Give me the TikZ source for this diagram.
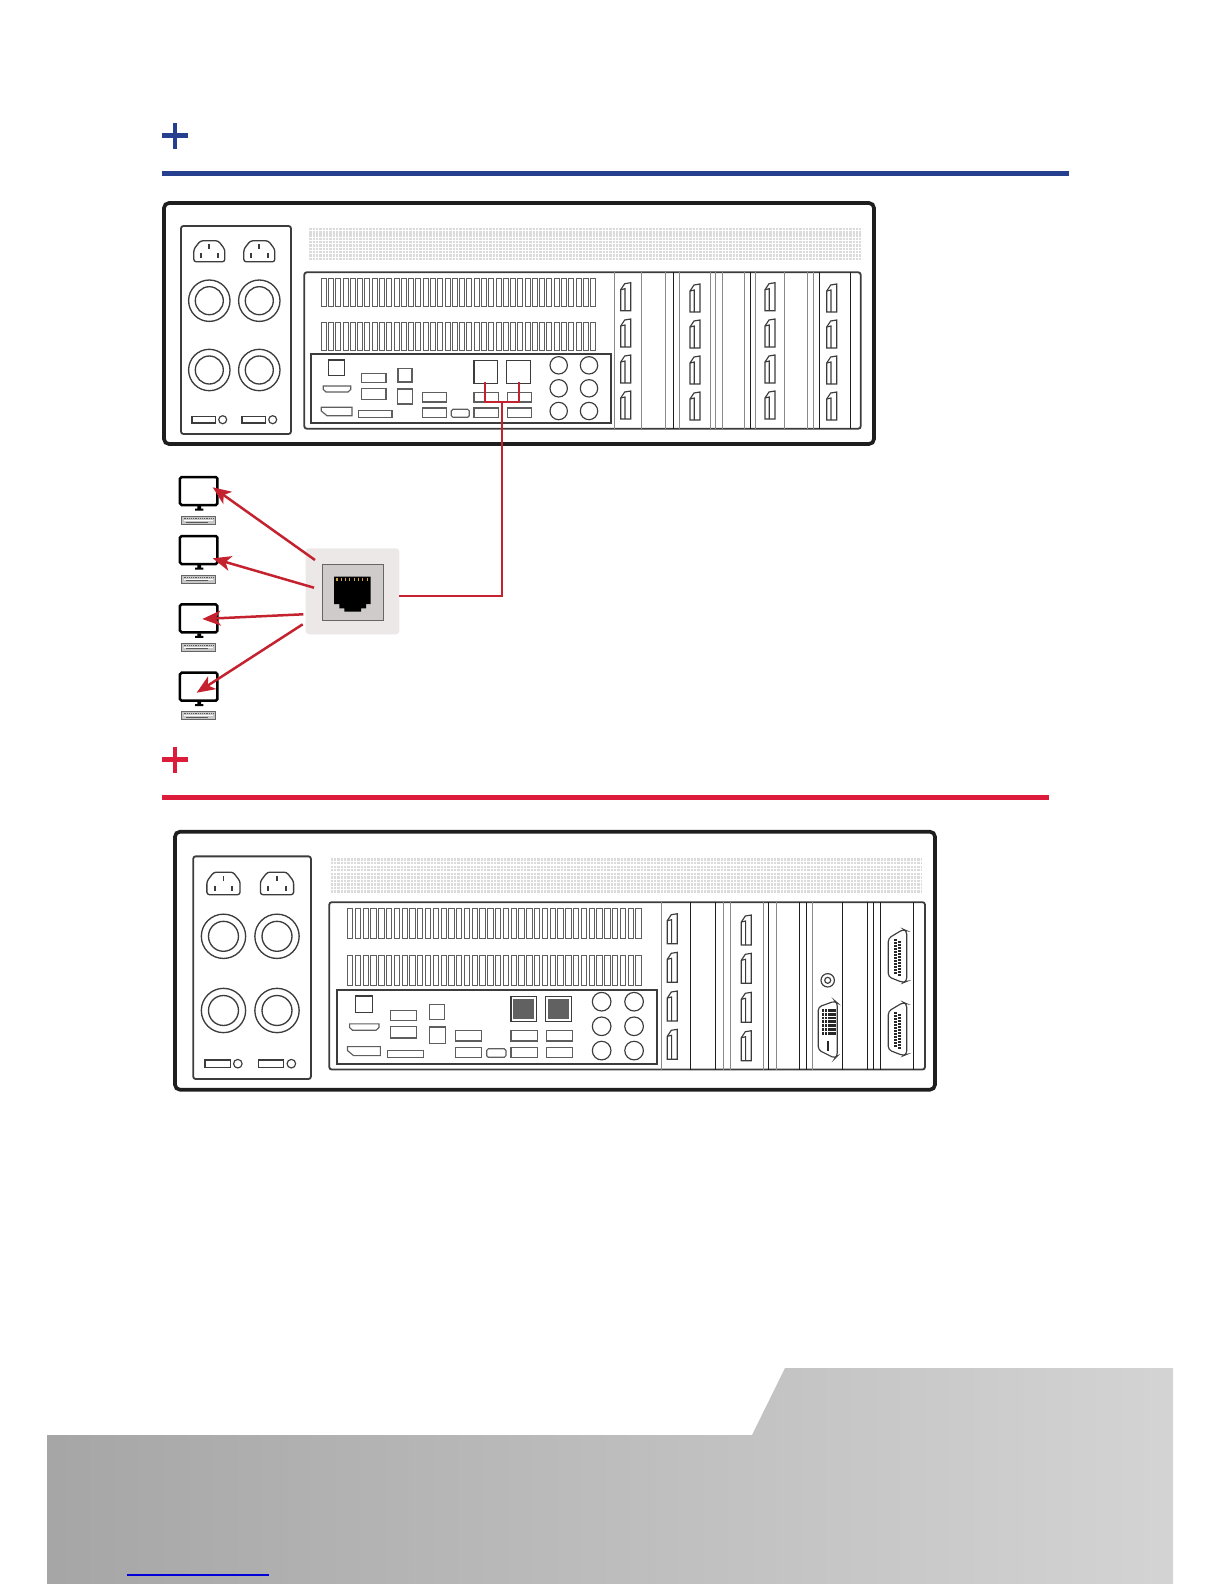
\documentclass[tikz,border=0pt]{standalone}
\usetikzlibrary{arrows.meta,positioning}
\definecolor{bluebar}{HTML}{26408F}
\definecolor{redbar}{HTML}{DC1C3A}
\definecolor{wirered}{HTML}{C4222E}
\definecolor{frameink}{HTML}{1E1E1E}
\definecolor{portink}{HTML}{3C3C3C}
\definecolor{slotink}{HTML}{5E5E5E}
\definecolor{paleink}{HTML}{8A8A8A}
\definecolor{jackpale}{HTML}{ECE8E8}
\definecolor{jackmid}{HTML}{CFCBCB}
\definecolor{contact}{HTML}{D2A540}
\tikzset{
    chassis/.style={draw=frameink, line width=2.2pt, rounded corners=3pt},
    panelbox/.style={draw=portink, line width=1.1pt, rounded corners=1.5pt},
    port/.style={draw=portink, line width=0.7pt},
    fineport/.style={draw=slotink, line width=0.7pt, fill=white},
    darkrule/.style={draw=frameink, line width=0.6pt},
    palerule/.style={draw=paleink, line width=0.6pt},
    slotbar/.style={draw=slotink, line width=0.6pt, fill=white},
    vent/.style={draw=black!14, line width=1.4pt, dash pattern=on 1.4pt off 0.6pt},
    screen/.style={draw=black, line width=1.5pt, rounded corners=1pt, fill=white, inner sep=0pt, minimum width=22.5pt, minimum height=16.8pt},
    keybd/.style={draw=black!60, line width=0.6pt, fill=black!22, inner sep=0pt, minimum width=20.4pt, minimum height=4.8pt},
    wire/.style={draw=wirered, line width=1.2pt},
    feed/.style={draw=wirered, line width=1.5pt, -{Stealth[length=11pt,width=9pt,inset=3pt]}},
    headbar/.style={line width=3pt},
    headplus/.style={line width=2.7pt}
}
\newcommand{\inlet}[2]{
    \begin{scope}[shift={(#1,#2)}]
        \draw[port, line width=0.8pt, rounded corners=1.5pt] (-15.5,10.5) -- (-15.5,-2) -- (-9,-10.5) -- (9,-10.5) -- (15.5,-2) -- (15.5,10.5) -- cycle;
        \draw[port, line width=1.1pt] (0,-7) -- (0,-2) (-8.3,2) -- (-8.3,7) (8.3,2) -- (8.3,7);
    \end{scope}
}
\newcommand{\dpport}[3]{
    \begin{scope}[shift={(#1,#2)}]
        \draw[port] (0,#3) -- (0,7) -- (4,1) -- (10,0) -- (10,#3) -- cycle;
        \draw[port] (0,7) -- (4.3,6) -- (4.3,#3);
    \end{scope}
}
\newcommand{\dsub}[1]{
    \begin{scope}[shift={(888.3,#1)}]
        \draw[port, rounded corners=2pt] (0,9) -- (15,0) -- (18.4,1.5) -- (18.4,52) -- (15,53.4) -- (0,47.5) -- cycle;
        \foreach \p in {0,...,11} {
            \fill[black!85] (5.5,10+\p*3) rectangle ++(3,2);
            \fill[black!85] (9.8,11.5+\p*3) rectangle ++(3,2);
        }
    \end{scope}
}
\newcommand{\rackframe}{
    \draw[chassis] (164,203) rectangle (874,444);
    \draw[panelbox] (181,226) rectangle (291,434);
    \foreach \x in {209.3,259.3} {
        \inlet{\x}{251.3}
        \foreach \y in {300.7,370} {
            \draw[port, line width=0.8pt] (\x,\y) circle (20.7) circle (14);
        }
    }
    \foreach \x in {192,242} {
        \draw[port] (\x,416.3) rectangle ++(23.7,6.7);
        \draw[port] (\x+30.7,419.7) circle (4);
    }
    \foreach \r in {0,...,9} {
        \draw[vent] (309.3,229+\r*3.33) -- (860.7,229+\r*3.33);
    }
}
\newcommand{\rackblock}{
    \draw[panelbox] (304.3,272.3) rectangle (860.7,428.7);
    \foreach \y in {278,322} {
        \foreach \s in {0,...,37} {
            \draw[slotbar] (321.3+\s*7.28,\y) rectangle ++(5,28);
        }
    }
    \draw[panelbox, rounded corners=0pt] (311.3,354) rectangle (610.7,423.3);
    \draw[port] (328.7,360) rectangle (344.7,375.3);
    \draw[fineport] (361.7,373.3) rectangle (386,382.7);
    \draw[fineport] (361.7,388.7) rectangle (386,399.3);
    \draw[fineport] (398,368.3) rectangle (412,382);
    \draw[fineport] (397.7,389) rectangle (412.7,404);
    \draw[fineport] (323.3,386) -- (350.7,386) -- (350.7,389.5) -- (348,392) -- (326,392) -- (323.3,389.5) -- cycle;
    \draw[fineport] (321.3,407.3) -- (352,407.3) -- (352,415.7) -- (327,415.7) -- (321.3,411) -- cycle;
    \draw[fineport] (358.7,410.7) rectangle (392,417.7);
    \foreach \x in {422.3,474,507.3} {
        \draw[fineport] (\x,392.3) rectangle ++(24.5,9.7);
        \draw[fineport] (\x,408) rectangle ++(24.5,9.7);
    }
    \draw[fineport, rounded corners=1pt] (451.3,409.3) rectangle (469.3,417.3);
    \draw[port] (474,360.3) rectangle (497.7,383.7);
    \draw[port] (506.3,360.3) rectangle (530.3,383.7);
    \foreach \x in {558.7,589} {
        \foreach \y in {365.3,388.3,411} {
            \draw[port] (\x,\y) circle (8.7);
        }
    }
}
\begin{document}
\begin{tikzpicture}[x=0.6pt,y=-0.6pt]
\useasboundingbox (0,0) rectangle (1224,1584);
\draw[bluebar, headplus] (162,135.7) -- (188,135.7) (175,123) -- (175,149);
\draw[bluebar, headbar] (162,173.3) -- (1069,173.3);
\draw[redbar, headplus] (162,759.3) -- (188,759.3) (175,746.5) -- (175,772.5);
\draw[redbar, headbar] (162,797.3) -- (1049,797.3);

\rackframe
\rackblock
\foreach \x in {614.3,641.7,665.3,679.3,710,715.3,722,744,755.7,784,807.7,813.7} {
    \draw[palerule] (\x,272.3) -- (\x,428.7);
}
\foreach \x in {673.3,750.7,819.3,850.7} {
    \draw[darkrule] (\x,272.3) -- (\x,428.7);
}
\foreach \x in {620.7,765} {
    \foreach \y in {282.7,319,355,391} {
        \dpport{\x}{\y}{28}
    }
}
\foreach \x in {690,826.7} {
    \foreach \y in {284,320,356,392} {
        \dpport{\x}{\y}{28}
    }
}

\foreach \ytop/\ykey/\name in {476/516/mona,535/574.7/monb,603.3/642.7/monc,671.7/711/mond} {
    \fill[black] (197.3,\ytop+30) rectangle (201,\ytop+33) (195,\ytop+32.5) rectangle (203.3,\ytop+34.5);
    \node[screen] (\name) at (198.7,\ytop+15) {};
    \node[keybd] (\name key) at (198.7,\ykey+4.3) {};
    \draw[white, line width=0.8pt] (184,\ykey+4.6) -- (213,\ykey+4.6);
    \draw[black!65, line width=0.6pt, dash pattern=on 0.6pt off 0.5pt] (183.5,\ykey+2.6) -- (214,\ykey+2.6);
    \draw[black!65, line width=0.5pt] (186,\ykey+6.2) -- (208,\ykey+6.2);
}

\node[fill=jackpale, rounded corners=2pt, inner sep=0pt, minimum width=56.2pt, minimum height=51.6pt] (jack) at (352.5,591.3) {};
\node[draw=black!60, line width=0.6pt, fill=jackmid, inner sep=0pt, minimum width=36.4pt, minimum height=33.6pt] (jackface) at (353,592) {};
\fill[black] (334,576.7) -- (370.7,576.7) -- (370.7,604) -- (366,604) -- (366,608.3) -- (361,608.3) -- (361,611.7) -- (344.3,611.7) -- (344.3,608.3) -- (339.3,608.3) -- (339.3,604) -- (334,604) -- cycle;
\foreach \p in {0,...,7} {
    \draw[contact, line width=0.7pt] (337+\p*4.3,578) -- (337+\p*4.3,581);
}

\coordinate (lana) at (485,381.7);
\coordinate (lanb) at (519.3,381.7);
\coordinate (tap) at (502,401.7);
\coordinate (jackout) at (399.3,595.7);
\coordinate (fromjacka) at (315,560);
\coordinate (fromjackb) at (314,587.7);
\coordinate (fromjackc) at (303.3,614.3);
\coordinate (fromjackd) at (302.7,624.3);
\coordinate (tipa) at (212.7,487.3);
\coordinate (tipb) at (212.7,558.3);
\coordinate (tipc) at (202.3,619);
\coordinate (tipd) at (196.7,692.7);
\draw[wire] (lana) |- (tap) -| (lanb);
\draw[wire] (jackout) -| (tap);
\draw[feed] (fromjacka) -- (tipa);
\draw[feed] (fromjackb) -- (tipb);
\draw[feed] (fromjackc) -- (tipc);
\draw[feed] (fromjackd) -- (tipd);

\begin{scope}[shift={(-0.55,614.4)},xscale=1.0704,yscale=1.0705]
    \rackframe
\end{scope}
\begin{scope}[shift={(3.5,610.8)},xscale=1.0706,yscale=1.07]
    \rackblock
    \foreach \x in {474,506.3} {
        \fill[black!62] (\x+2.2,362.5) rectangle ++(19.3,19);
    }
\end{scope}
\foreach \x in {661.3,723.7,730.7,763.7,776,812} {
    \draw[palerule] (\x,902.3) -- (\x,1069.5);
}
\foreach \x in {690.3,715,768.7,799,806,842.3,867.7,873.7,880.3,913.7} {
    \draw[darkrule] (\x,902.3) -- (\x,1069.5);
}
\foreach \y in {913.7,952.3,991,1029.3} {
    \dpport{667.3}{\y}{30}
}
\foreach \y in {915,953.3,992.3,1030.7} {
    \dpport{741.3}{\y}{30}
}
\draw[port] (827.7,980.3) circle (6.7) circle (3);
\draw[port, rounded corners=2pt] (818.3,1007) -- (835,1001) -- (837.3,1003) -- (837.3,1056) -- (835,1058.3) -- (818.3,1050) -- cycle;
\foreach \c in {0,...,4} {
    \foreach \r in {0,...,6} {
        \fill[black!85] (821.7+\c*2.9,1009+\r*3.8) rectangle ++(2.3,2.8);
    }
}
\draw[black!85, line width=1pt] (828.3,1040.7) -- (828.3,1050.7);
\dsub{929.3}
\dsub{1002.3}

\shade[left color=black!35, right color=black!17] (47,1584) -- (47,1435) -- (752,1435) -- (785,1368) -- (1173,1368) -- (1173,1584) -- cycle;
\draw[blue!85!black, line width=0.8pt] (127,1575) -- (269,1575);
\end{tikzpicture}
\end{document}
